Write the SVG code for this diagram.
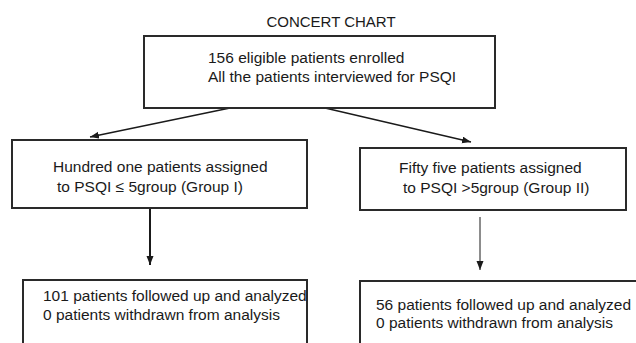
<svg xmlns="http://www.w3.org/2000/svg" width="636" height="343" viewBox="0 0 636 343">
  <defs>
    <marker id="arr" markerUnits="userSpaceOnUse" markerWidth="10" markerHeight="8" refX="9" refY="3.5" orient="auto">
      <path d="M0,0 L9,3.5 L0,7 z" fill="#1a1a1a"/>
    </marker>
  </defs>
  <style>
    .box { fill: #ffffff; stroke: #2a2a2a; stroke-width: 2; }
    .t { font-family: "Liberation Sans", Arial, sans-serif; font-size: 15.5px; fill: #1a1a1a; }
    .title { font-family: "Liberation Sans", Arial, sans-serif; font-size: 15px; fill: #1a1a1a; }
    .conn { stroke: #1a1a1a; fill: none; }
  </style>
  <rect width="636" height="343" fill="#ffffff"/>
  <text class="title" x="331" y="27" text-anchor="middle">CONCERT CHART</text>

  <g id="connectors">
    <line class="conn" stroke-width="1.3" x1="230" y1="108" x2="90" y2="137" marker-end="url(#arr)"/>
    <line class="conn" stroke-width="1.3" x1="325" y1="108" x2="471" y2="142" marker-end="url(#arr)"/>
    <line class="conn" stroke-width="2" x1="150" y1="208" x2="150" y2="265" marker-end="url(#arr)"/>
    <line class="conn" stroke-width="1" x1="480" y1="217" x2="480" y2="270" marker-end="url(#arr)"/>
  </g>

  <g id="enrolled">
    <rect class="box" x="144" y="36" width="351" height="72"/>
    <text class="t" x="208" y="63">156 eligible patients enrolled</text>
    <text class="t" x="208" y="82">All the patients interviewed for PSQI</text>
  </g>

  <g id="group1">
    <rect class="box" x="12" y="140" width="295" height="68"/>
    <text class="t" x="53" y="172">Hundred one patients assigned</text>
    <text class="t" x="57" y="192">to PSQI ≤ 5group (Group I)</text>
  </g>

  <g id="group2">
    <rect class="box" x="360" y="148" width="266" height="62"/>
    <text class="t" x="399" y="173">Fifty five patients assigned</text>
    <text class="t" x="403" y="193">to PSQI &gt;5group (Group II)</text>
  </g>

  <g id="analysis1">
    <rect class="box" x="23" y="280" width="284" height="80"/>
    <text class="t" x="43" y="301">101 patients followed up and analyzed</text>
    <text class="t" x="43" y="320">0 patients withdrawn from analysis</text>
  </g>

  <g id="analysis2">
    <rect class="box" x="360" y="281" width="300" height="80"/>
    <text class="t" x="376" y="310">56 patients followed up and analyzed</text>
    <text class="t" x="376" y="328">0 patients withdrawn from analysis</text>
  </g>
</svg>
